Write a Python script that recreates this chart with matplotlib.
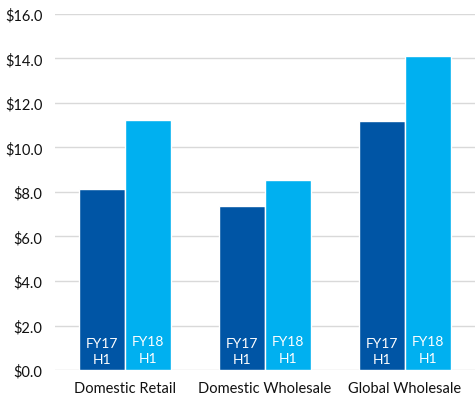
import matplotlib
matplotlib.use('Agg')
import matplotlib.pyplot as plt
import numpy as np

categories = ['Domestic Retail', 'Domestic Wholesale', 'Global Wholesale']
fy17_h1 = [8.12, 7.36, 11.19]
fy18_h1 = [11.22, 8.52, 14.10]
series_labels = ['FY17\nH1', 'FY18\nH1']
yticks = np.arange(0, 16.1, 2)

plt.rcParams['font.family'] = ['Lato', 'DejaVu Sans']

fig = plt.figure(figsize=(4.75, 4.02), dpi=100)
ax = fig.add_axes([0.116, 0.077, 0.884, 0.886])

x = np.arange(len(categories))
w = 0.33
colors = ['#0055A5', '#00B0F0']
for i, (vals, lab) in enumerate(zip([fy17_h1, fy18_h1], series_labels)):
    pos = x + (i - 0.5) * w
    ax.bar(pos, vals, w, color=colors[i], edgecolor='white', linewidth=1, zorder=3)
    for p in pos:
        ax.annotate(lab, xy=(p, 0), xytext=(0, 3.5 + i), textcoords='offset points',
                    ha='center', va='bottom', color='white', fontsize=10,
                    linespacing=1.45, zorder=4)

ax.set_xlim(-0.5, 2.5)
ax.set_ylim(0, 16)
ax.set_yticks(yticks)
ax.set_yticklabels([f'${v:.1f}' for v in yticks])
ax.set_xticks(x)
ax.set_xticklabels(categories)
ax.tick_params(length=0, labelsize=10.5, colors='#111111')
ax.tick_params(axis='y', pad=9)
ax.tick_params(axis='x', pad=8)
ax.grid(axis='y', color='#d9d9d9', linewidth=1, zorder=0)
ax.set_axisbelow(True)
for s in ax.spines.values():
    s.set_visible(False)

fig.savefig('out.png', dpi=100)
